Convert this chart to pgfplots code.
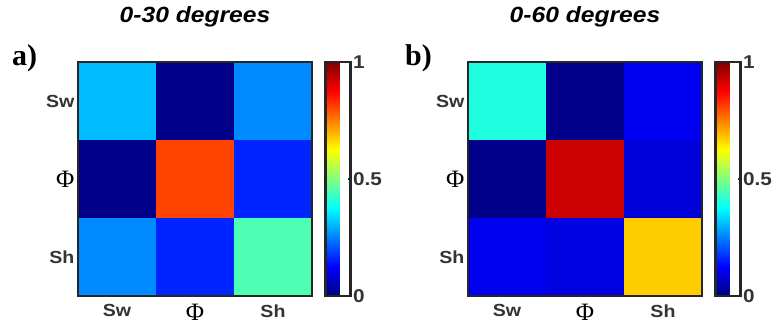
\documentclass[border=0pt]{standalone}
\usepackage{pgfplots}
\pgfplotsset{compat=1.18}
\usepackage{fontspec}
\setmainfont{Liberation Sans}[FakeStretch=1.12]
\newfontfamily\seriffont{Liberation Serif}
\definecolor{axgray}{HTML}{262626}
\definecolor{lblgray}{HTML}{333333}
\newcommand{\PhiL}{{\seriffont\mdseries\fontsize{25}{25}\selectfont\color{black}Φ}}

\pgfplotstableread{
x y c
0 0 0.31
1 0 0.01
2 0 0.26
0 1 0.01
1 1 0.81
2 1 0.16
0 2 0.26
1 2 0.16
2 2 0.45
}\dataA

\pgfplotstableread{
x y c
0 0 0.405
1 0 0.01
2 0 0.11
0 1 0.01
1 1 0.925
2 1 0.09
0 2 0.11
1 2 0.095
2 2 0.675
}\dataB

\pgfplotsset{
  hm/.style={
    anchor=south west,
    scale only axis, width=234pt, height=234pt,
    axis on top,
    xmin=-0.5, xmax=2.5, ymin=-0.5, ymax=2.5, y dir=reverse,
    xtick={0,1,2}, ytick={0,1,2},
    xticklabels={Sw,\PhiL,Sh}, yticklabels={Sw,\PhiL,Sh},
    tick align=inside,
    major tick length=3pt,
    tick style={line width=2pt, axgray},
    axis line style={line width=2.8pt, draw=axgray},
    ticklabel style={font=\fontsize{17.5}{17.5}\selectfont\bfseries, text=lblgray},
    xticklabel style={yshift=-5pt},
    colormap/jet,
    point meta min=0, point meta max=1,
    colorbar,
    colorbar style={
      at={(parent axis.north east)}, anchor=north west, xshift=5pt,
      scale only axis, width=25pt, height=234pt,
      axis on top,
      ytick={0,0.5,1}, yticklabels={0,0.5,1},
      tick pos=right,
      tick align=inside, major tick length=3pt,
      tick style={line width=2pt, axgray},
      axis line style={line width=2.8pt, draw=axgray},
      yticklabel style={font=\fontsize{18.5}{18.5}\selectfont\bfseries, text=lblgray, xshift=-1pt},
    },
    title style={font=\fontsize{22}{22}\selectfont\bfseries\itshape, at={(0.5,1)}, anchor=base, yshift=33pt},
  },
}

\begin{document}
\begin{tikzpicture}
\path[use as bounding box] (0,0) rectangle (777pt,332pt);
\begin{axis}[hm, name=axA, at={(78pt,36pt)}, title={0-30 degrees}, colorbar style={name=cbA}]
\addplot[scatter, only marks, point meta=explicit, mark=square*, mark size=39pt,
  scatter/use mapped color={draw=mapped color, fill=mapped color},
  mark options={line width=0.6pt}] table[x=x, y=y, meta=c] {\dataA};
\end{axis}
\begin{axis}[hm, name=axB, at={(468pt,36pt)}, title={0-60 degrees}, colorbar style={name=cbB}]
\addplot[scatter, only marks, point meta=explicit, mark=square*, mark size=39pt,
  scatter/use mapped color={draw=mapped color, fill=mapped color},
  mark options={line width=0.6pt}] table[x=x, y=y, meta=c] {\dataB};
\end{axis}
\foreach \n in {axA,axB,cbA,cbB}
  \draw[line width=2.8pt, axgray] (\n.south west) rectangle (\n.north east);
\node[anchor=base west, inner sep=0pt, font=\seriffont\bfseries\fontsize{30}{30}\selectfont] at (12pt,266pt) {a)};
\node[anchor=base west, inner sep=0pt, font=\seriffont\bfseries\fontsize{30}{30}\selectfont] at (405pt,266pt) {b)};
\end{tikzpicture}
\end{document}
